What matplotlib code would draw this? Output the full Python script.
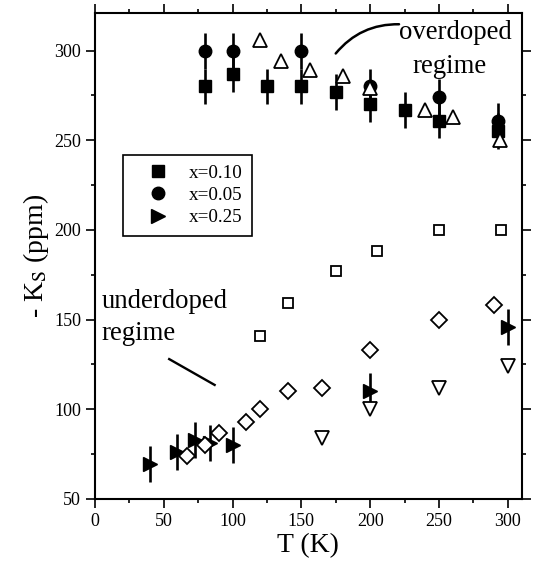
import numpy as np
import matplotlib
matplotlib.use('Agg')
import matplotlib.pyplot as plt

plt.rcParams['font.family'] = ['Liberation Serif', 'DejaVu Serif']
plt.rcParams['mathtext.fontset'] = 'stix'

"""Knight shift data (T in K, -Ks in ppm)"""
# x = 0.10, filled squares with error bars
T_010  = [80, 100, 125, 150, 175, 200, 225, 250, 293]
K_010  = [280, 287, 280, 280, 277, 270, 267, 261, 255]
# x = 0.05, filled circles with error bars
T_005  = [80, 100, 150, 200, 250, 293]
K_005  = [300, 300, 300, 280, 274, 261]
# x = 0.25, filled right triangles with error bars
T_025  = [40, 60, 73, 84, 100, 200, 300]
K_025  = [69.5, 76, 83, 81, 80, 110, 146]
err    = 10.0                                   # Error bar half-width

# open symbols (other samples)
T_up   = [120, 135, 156, 180, 200, 240, 260, 294]
K_up   = [306, 294, 289, 286, 279, 267, 263, 250]
T_sq   = [120, 140, 175, 205, 250, 295]
K_sq   = [141, 159, 177, 188, 200, 200]
T_dia  = [67, 80, 90, 110, 120, 140, 165, 200, 250, 290]
K_dia  = [74, 80, 87, 93, 100, 110, 112, 133, 150, 158]
T_down = [165, 200, 250, 300]
K_down = [84, 100, 112, 124]

"""Figure"""
fig = plt.figure(figsize=(5.36, 5.63), dpi=100)
ax = fig.add_axes([0.177, 0.1137, 0.796, 0.8633])

eb = dict(fmt='none', ecolor='k', elinewidth=1.9, capsize=0, zorder=2)
ax.errorbar(T_010, K_010, yerr=err, **eb)
ax.errorbar(T_005, K_005, yerr=err, **eb)
ax.errorbar(T_025, K_025, yerr=err, **eb)

ax.plot(T_010, K_010, 's', ms=8, mfc='k', mec='k', label='x=0.10', zorder=3)
ax.plot(T_005, K_005, 'o', ms=9, mfc='k', mec='k', label='x=0.05', zorder=3)
ax.plot(T_025, K_025, '>', ms=10.5, mfc='k', mec='k', label='x=0.25', zorder=3)

op = dict(ls='none', mfc='white', mec='k', mew=1.3, zorder=3)
ax.plot(T_up, K_up, '^', ms=10.5, **op)
ax.plot(T_sq, K_sq, 's', ms=7.8, **op)
ax.plot(T_dia, K_dia, 'D', ms=7.8, **op)
ax.plot(T_down, K_down, 'v', ms=10.5, **op)

"""Regime annotations"""
ax.text(262, 310, 'overdoped', fontsize=19.3, ha='center', va='center')
ax.text(257.5, 291, 'regime', fontsize=19.3, ha='center', va='center')
ax.annotate('', xy=(221, 314.7), xytext=(175, 298.4),
            arrowprops=dict(arrowstyle='-', lw=1.8, color='k',
                            shrinkA=0, shrinkB=0,
                            connectionstyle='arc3,rad=-0.24'))
ax.text(5, 160, 'underdoped', fontsize=19.3, ha='left', va='center')
ax.text(5, 142.4, 'regime', fontsize=19.3, ha='left', va='center')
ax.plot([54, 87], [128, 113.6], c='k', lw=1.7)

"""Axes"""
ax.set_xlim(0, 310)
ax.set_ylim(50, 321)
ax.set_xticks(np.arange(0, 301, 50))
ax.set_xticks(np.arange(25, 310, 50), minor=True)
ax.set_yticks(np.arange(50, 301, 50))
ax.set_yticks(np.arange(75, 321, 50), minor=True)
ax.tick_params(which='both', direction='out', top=True, right=True,
               labelsize=13, width=1.2, color='k')
ax.tick_params(which='major', length=6.5)
ax.tick_params(which='minor', length=3.2)
for s in ax.spines.values():
    s.set_linewidth(1.5)

ax.set_xlabel('T (K)', fontsize=20, labelpad=2)
ax.set_ylabel(r'- K$_\mathrm{S}$ (ppm)', fontsize=20, labelpad=2)

leg = ax.legend(loc='upper left', bbox_to_anchor=(0.065, 0.708),
                borderaxespad=0, fontsize=13.8, fancybox=False,
                framealpha=1, edgecolor='k', borderpad=0.5,
                handlelength=2.7, handletextpad=0.26, labelspacing=0.25)
leg.get_frame().set_linewidth(1.2)

fig.savefig('out.png', dpi=100)
